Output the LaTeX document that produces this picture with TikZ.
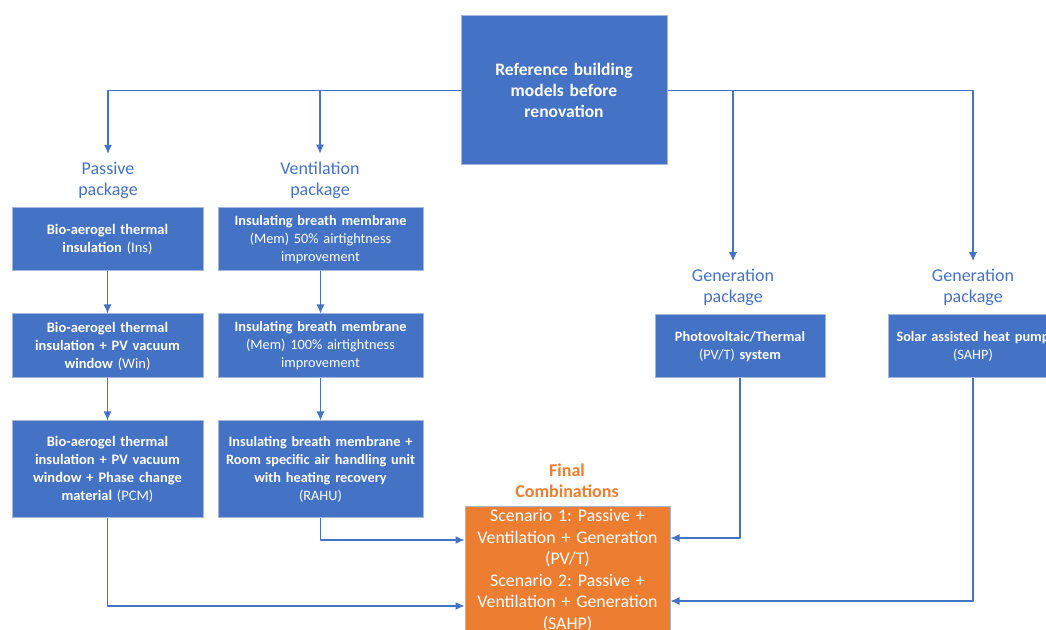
\documentclass[tikz,border=0pt]{standalone}
\usepackage{fontspec}
\setmainfont{Carlito}
\usetikzlibrary{arrows.meta}
\definecolor{boxblue}{HTML}{4472C4}
\definecolor{boxorange}{HTML}{ED7D31}
\definecolor{boxedge}{RGB}{165,182,214}
\frenchspacing

\begin{document}
\begin{tikzpicture}[>={Latex[length=9bp,width=8bp]},line join=bevel,
  flow/.style={boxblue,line width=1.2bp,->},
  bluebox/.style={draw=boxedge,fill=boxblue,text=white,line width=1bp,align=center,inner sep=0pt},
  refbox/.style={bluebox,minimum width=206bp,minimum height=149bp,text width=196bp,font=\fontsize{17.5bp}{21bp}\selectfont\bfseries},
  passbox/.style={bluebox,minimum width=191bp,text width=189bp,font=\fontsize{14.5bp}{18bp}\selectfont},
  ventbox/.style={bluebox,minimum width=205bp,text width=203bp,font=\fontsize{14.3bp}{18bp}\selectfont},
  genbox/.style={bluebox,minimum width=170bp,minimum height=63bp,text width=168bp,font=\fontsize{14.3bp}{18bp}\selectfont},
  pkglabel/.style={text=boxblue,align=center,inner sep=0pt,outer sep=8bp,font=\fontsize{18bp}{21bp}\selectfont},
  finbox/.style={draw=boxedge,fill=boxorange,text=white,line width=1bp,align=center,inner sep=0pt,minimum width=205bp,minimum height=127bp,text width=203bp,font=\fontsize{17.8bp}{21.5bp}\selectfont},
]
\useasboundingbox (0bp,0bp) rectangle (1046bp,630bp);
\clip (0bp,0bp) rectangle (1046bp,630bp);
%%
\node (node_0) at (564bp,539.5bp) [refbox] {Reference building\\models before\\renovation};
  \node (node_1) at (108bp,450bp) [pkglabel] {Passive\\package};
  \node (node_2) at (320bp,450bp) [pkglabel] {Ventilation\\package};
  \node (node_3) at (733bp,342.5bp) [pkglabel] {Generation\\package};
  \node (node_4) at (973bp,342.5bp) [pkglabel] {Generation\\package};
  \node (node_5) at (107.5bp,390.5bp) [passbox,minimum height=63bp] {\textbf{Bio-aerogel thermal}\\\textbf{insulation} (Ins)};
  \node (node_6) at (107.5bp,284bp) [passbox,minimum height=64bp] {\textbf{Bio-aerogel thermal}\\\textbf{insulation + PV vacuum}\\\textbf{window} (Win)};
  \node (node_7) at (107.5bp,160.5bp) [passbox,minimum height=97bp] {\textbf{Bio-aerogel thermal}\\\textbf{insulation + PV vacuum}\\\textbf{window + Phase change}\\\textbf{material} (PCM)};
  \node (node_8) at (320.5bp,390.5bp) [ventbox,minimum height=63bp] {\textbf{Insulating breath membrane}\\(Mem) 50\% airtightness\\improvement};
  \node (node_9) at (320.5bp,284bp) [ventbox,minimum height=64bp] {\textbf{Insulating breath membrane}\\(Mem) 100\% airtightness\\improvement};
  \node (node_10) at (320.5bp,160.5bp) [ventbox,minimum height=97bp] {\textbf{Insulating breath membrane +}\\\textbf{Room specific air handling unit}\\\textbf{with heating recovery}\\(RAHU)};
  \node (node_11) at (740bp,283.5bp) [genbox] {\textbf{Photovoltaic/Thermal}\\(PV/T) \textbf{system}};
  \node (node_12) at (973bp,283.5bp) [genbox] {\textbf{Solar assisted heat pump}\\(SAHP)};
  \node (node_13) at (567bp,149bp) [pkglabel,text=boxorange,font=\fontsize{18bp}{21.5bp}\selectfont\bfseries] {Final\\Combinations};
  \node (node_14) at (567.5bp,59.5bp) [finbox] {Scenario 1: Passive +\\Ventilation + Generation\\(PV/T)\\Scenario 2: Passive +\\Ventilation + Generation\\(SAHP)};
  \draw [flow] (node_0.west) -| (node_1.north);
  \draw [flow] (node_0.west) -| (node_2.north);
  \draw [flow] (node_0.east) -| (node_3.north);
  \draw [flow] (node_0.east) -| (node_4.north);
  \draw [flow] (node_5) -- (node_6);
  \draw [flow] (node_6) -- (node_7);
  \draw [flow] (node_8) -- (node_9);
  \draw [flow] (node_9) -- (node_10);
  \draw [flow] (node_10.south) |- ([yshift=30.5bp]node_14.west);
  \draw [flow] (node_7.south) |- ([yshift=-35.5bp]node_14.west);
  \draw [flow] (node_11.south) |- ([yshift=32.5bp]node_14.east);
  \draw [flow] (node_12.south) |- ([yshift=-30.5bp]node_14.east);
%
\end{tikzpicture}
\end{document}
